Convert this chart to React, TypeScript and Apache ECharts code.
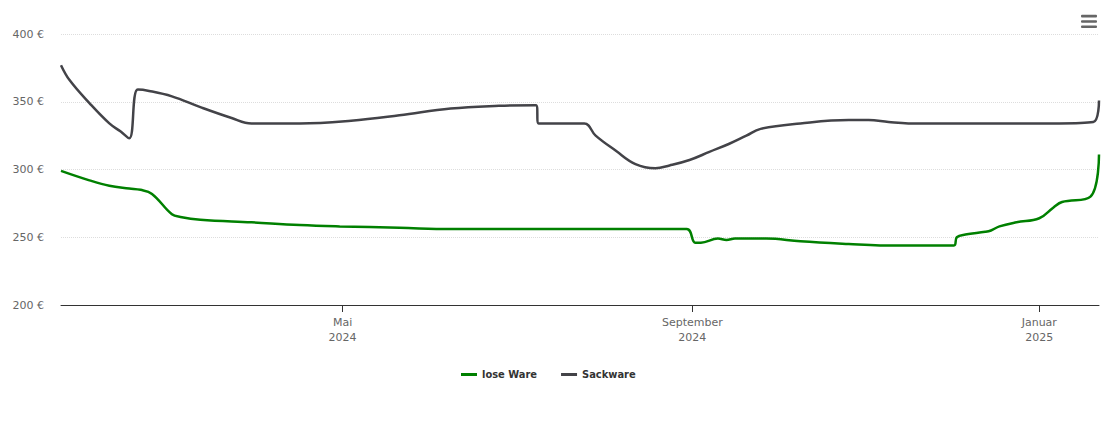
import React, { useEffect, useRef } from "react";
import * as echarts from "echarts";

const loseDates = [
  "2024-01-23", "2024-02-02", "2024-02-09", "2024-02-16", "2024-02-20", "2024-02-24",
  "2024-03-02", "2024-03-05", "2024-03-12", "2024-03-30", "2024-04-16", "2024-04-30",
  "2024-05-21", "2024-06-08", "2024-08-30", "2024-09-02", "2024-09-04", "2024-09-10",
  "2024-09-13", "2024-09-16", "2024-09-27", "2024-10-09", "2024-10-26", "2024-11-06",
  "2024-12-02", "2024-12-03", "2024-12-06", "2024-12-13", "2024-12-15", "2024-12-18",
  "2024-12-24", "2025-01-01", "2025-01-06", "2025-01-09", "2025-01-19", "2025-01-22",
];
const loseValues = [
  299, 292, 288, 286, 285, 282,
  267, 265, 263, 261, 259, 258,
  257, 256, 256, 246, 246, 249,
  248, 249, 249, 247, 245, 244,
  244, 250, 252, 254, 255, 258,
  261, 264, 272, 276, 280, 311,
];

const sackDates = [
  "2024-01-23", "2024-01-26", "2024-02-02", "2024-02-09", "2024-02-13", "2024-02-16",
  "2024-02-19", "2024-02-23", "2024-03-02", "2024-03-12", "2024-03-23", "2024-03-30",
  "2024-04-16", "2024-05-04", "2024-05-21", "2024-06-08", "2024-06-25", "2024-07-08",
  "2024-07-09", "2024-07-25", "2024-07-29", "2024-08-05", "2024-08-12", "2024-08-19",
  "2024-08-24", "2024-08-31", "2024-09-07", "2024-09-14", "2024-09-20", "2024-09-25",
  "2024-10-09", "2024-10-26", "2024-11-02", "2024-11-09", "2024-11-16", "2024-12-18",
  "2025-01-08", "2025-01-20", "2025-01-22",
];
const sackValues = [
  377, 366, 349, 334, 328, 323,
  359, 358, 354, 346, 338, 334,
  334, 336, 340, 345, 347, 347.5,
  334, 334, 325, 314, 304, 301,
  303, 307, 313, 319, 325, 330,
  334, 336.5, 336.5, 335, 334, 334,
  334, 335, 351,
];

const seriesNames = ["lose Ware", "Sackware"];
const seriesColors = ["#008000", "#434348"];
const yTicks = [200, 250, 300, 350, 400];
const xTickDates = ["2024-05-01", "2024-09-01", "2025-01-01"];
const monthNames = [
  "Januar", "Februar", "März", "April", "Mai", "Juni",
  "Juli", "August", "September", "Oktober", "November", "Dezember",
];

const parseDate = (s: string) => {
  const [y, m, d] = s.split("-").map(Number);
  return new Date(y, m - 1, d).getTime();
};

export default function App() {
  const ref = useRef<HTMLDivElement>(null);
  useEffect(() => {
    document.body.style.margin = "0";
    if (!ref.current) return;
    const chart = echarts.init(ref.current, undefined, { renderer: "svg" });
    const font = "DejaVu Sans";
    const tickValues = xTickDates.map(parseDate);
    chart.setOption({
      animation: false,
      grid: { left: 61, right: 11, top: 34, bottom: 118 },
      xAxis: {
        type: "value",
        min: parseDate("2024-01-23"),
        max: parseDate("2025-01-22"),
        axisLine: { show: true, lineStyle: { color: "#333333", width: 1 } },
        axisTick: {
          show: true,
          length: 7,
          lineStyle: { color: "#333333" },
          customValues: tickValues,
        },
        axisLabel: {
          customValues: tickValues,
          color: "#666666",
          fontFamily: font,
          fontSize: 11,
          lineHeight: 15,
          margin: 10,
          formatter: (v: number) => {
            const d = new Date(v);
            return monthNames[d.getMonth()] + "\n" + d.getFullYear();
          },
        },
        splitLine: { show: false },
      },
      yAxis: {
        type: "value",
        min: yTicks[0],
        max: yTicks[yTicks.length - 1],
        interval: 50,
        axisLine: { show: false },
        axisTick: { show: false },
        axisLabel: {
          formatter: "{value} €",
          color: "#666666",
          fontFamily: font,
          fontSize: 11,
          margin: 17,
        },
        splitLine: { lineStyle: { color: "#dddddd", type: "dotted", width: 1 } },
      },
      legend: {
        left: 456,
        top: 364,
        itemWidth: 16,
        itemHeight: 3,
        itemGap: 24,
        textStyle: {
          color: "#333333",
          fontFamily: "DejaVu Sans Condensed, DejaVu Sans",
          fontWeight: "bold",
          fontSize: 11,
        },
        data: seriesNames.map((n) => ({ name: n, icon: "rect" })),
      },
      graphic: [0, 1, 2].map((i) => ({
        type: "rect",
        shape: { x: 1081, y: 14.8 + i * 5.35, width: 16, height: 2.6, r: 1 },
        style: { fill: "#666666" },
      })),
      series: [
        {
          name: seriesNames[0],
          type: "line",
          data: loseDates.map((d, i) => [parseDate(d), loseValues[i]]),
          showSymbol: false,
          smooth: 0.4,
          lineStyle: { color: seriesColors[0], width: 2.5 },
          itemStyle: { color: seriesColors[0] },
        },
        {
          name: seriesNames[1],
          type: "line",
          data: sackDates.map((d, i) => [parseDate(d), sackValues[i]]),
          showSymbol: false,
          smooth: 0.4,
          lineStyle: { color: seriesColors[1], width: 2.5 },
          itemStyle: { color: seriesColors[1] },
        },
      ],
    });
    return () => chart.dispose();
  }, []);
  return <div ref={ref} style={{ width: 1110, height: 423 }} />;
}
